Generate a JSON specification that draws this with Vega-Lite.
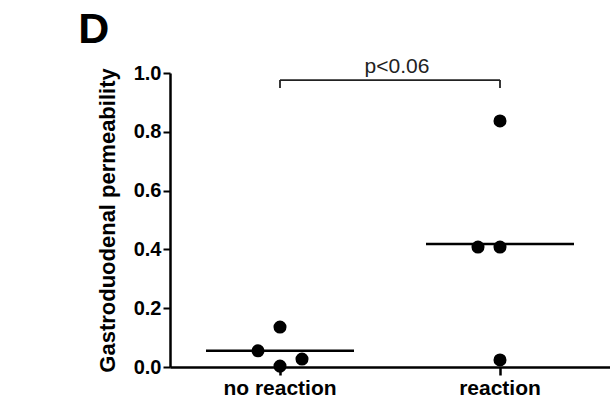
{
  "$schema": "https://vega.github.io/schema/vega-lite/v6.json",
  "width": 440,
  "height": 294,
  "autosize": {"type": "none"},
  "padding": {"left": 170, "top": 73, "right": 0, "bottom": 38},
  "background": "white",
  "config": {"view": {"stroke": null}, "font": "Liberation Sans"},
  "title": {"text": "D", "anchor": "start", "fontSize": 43, "fontWeight": "bold", "dx": -18, "offset": 4, "color": "black", "font": "Liberation Sans"},
  "datasets": {
    "points": [
      {"group": "no reaction", "slot": 0, "value": 0.136},
      {"group": "no reaction", "slot": -1, "value": 0.055},
      {"group": "no reaction", "slot": 0, "value": 0.003},
      {"group": "no reaction", "slot": 1, "value": 0.027},
      {"group": "reaction", "slot": 0, "value": 0.837},
      {"group": "reaction", "slot": -1, "value": 0.408},
      {"group": "reaction", "slot": 0, "value": 0.408},
      {"group": "reaction", "slot": 0, "value": 0.024}
    ],
    "medians": [
      {"group": "no reaction", "value": 0.055},
      {"group": "reaction", "value": 0.418}
    ],
    "bracket": [
      {"from": "no reaction", "to": "reaction", "top": 0.976, "bottom": 0.949, "labelY": 1.0, "label": "p<0.06"}
    ]
  },
  "encoding": {},
  "layer": [
    {
      "data": {"name": "medians"},
      "mark": {"type": "tick", "color": "black", "size": 148, "thickness": 2.5, "opacity": 1},
      "encoding": {
        "x": {"field": "group", "type": "nominal", "sort": ["no reaction", "reaction"],
          "scale": {"domain": ["no reaction", "reaction"], "paddingInner": 0, "paddingOuter": 0},
          "axis": {"title": null, "labelAngle": 0, "labelFontSize": 21, "labelFontWeight": "bold", "labelColor": "black",
            "domainColor": "black", "domainWidth": 2.5, "tickColor": "black", "tickWidth": 2.5, "tickSize": 8, "labelPadding": 2}},
        "y": {"field": "value", "type": "quantitative",
          "scale": {"domain": [0, 1], "nice": false},
          "axis": {"title": "Gastroduodenal permeability", "titleFontSize": 22, "titleFontWeight": "bold", "titleColor": "black", "titlePadding": 14,
            "values": [0, 0.2, 0.4, 0.6, 0.8, 1.0], "format": ".1f", "grid": false,
            "labelFontSize": 20, "labelFontWeight": "bold", "labelColor": "black", "labelPadding": 2,
            "domainColor": "black", "domainWidth": 2.5, "tickColor": "black", "tickWidth": 2, "tickSize": 7}}
      }
    },
    {
      "data": {"name": "points"},
      "mark": {"type": "point", "filled": true, "color": "black", "size": 170, "opacity": 1},
      "encoding": {
        "x": {"field": "group", "type": "nominal"},
        "xOffset": {"field": "slot", "type": "ordinal", "scale": {"domain": [-5, -4, -3, -2, -1, 0, 1, 2, 3, 4, 5], "paddingInner": 0, "paddingOuter": 0}},
        "y": {"field": "value", "type": "quantitative"}
      }
    },
    {
      "data": {"name": "bracket"},
      "mark": {"type": "rule", "color": "#222", "strokeWidth": 1.8},
      "encoding": {
        "x": {"field": "from", "type": "nominal"},
        "x2": {"field": "to"},
        "y": {"field": "top", "type": "quantitative"}
      }
    },
    {
      "data": {"name": "bracket"},
      "mark": {"type": "rule", "color": "#222", "strokeWidth": 1.8},
      "encoding": {
        "x": {"field": "from", "type": "nominal"},
        "y": {"field": "bottom", "type": "quantitative"},
        "y2": {"field": "top"}
      }
    },
    {
      "data": {"name": "bracket"},
      "mark": {"type": "rule", "color": "#222", "strokeWidth": 1.8},
      "encoding": {
        "x": {"field": "to", "type": "nominal"},
        "y": {"field": "bottom", "type": "quantitative"},
        "y2": {"field": "top"}
      }
    },
    {
      "data": {"name": "bracket"},
      "mark": {"type": "text", "fontSize": 21, "color": "#222", "baseline": "alphabetic", "align": "center", "dx": 7},
      "encoding": {
        "x": {"field": "to", "type": "nominal", "bandPosition": 0},
        "y": {"field": "labelY", "type": "quantitative"},
        "text": {"field": "label"}
      }
    }
  ]
}
